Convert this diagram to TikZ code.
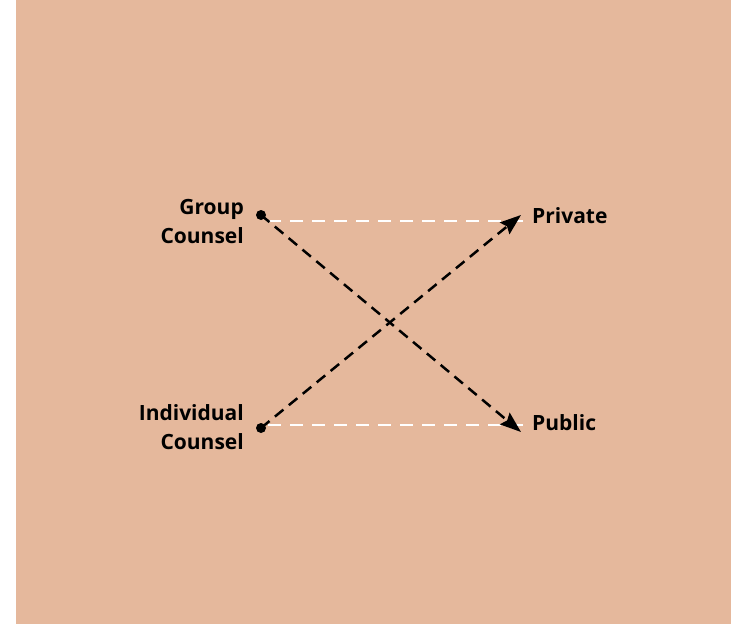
\documentclass[tikz,border=0pt]{standalone}
\usepackage{fontspec}
\setmainfont{Open Sans}
\usetikzlibrary{arrows.meta}
\definecolor{peach}{HTML}{E5B89C}
\tikzset{
	lbl/.style={font=\bfseries\fontsize{21}{29}\selectfont, inner sep=0pt},
	flow/.style={line width=2.5pt, dash pattern=on 11pt off 7pt, -{Stealth[length=21pt,width=15pt,inset=3pt]}},
	guide/.style={white, line width=2.4pt, dash pattern=on 13pt off 9pt},
}

\begin{document}
\begin{tikzpicture}[x=1pt,y=-1pt]
		\useasboundingbox (0,0) rectangle (731,624);
		\fill[peach] (16,0) rectangle (731,624);
		\coordinate (gdot) at (261,215);
		\coordinate (idot) at (261,428);
		\coordinate (privend) at (521,215);
		\coordinate (pubend) at (521,432);
		\node[lbl, align=right, anchor=base east] (group) at (244,243) {Group\\Counsel};
		\node[lbl, align=right, anchor=base east] (indiv) at (244,449) {Individual\\Counsel};
		\node[lbl, anchor=base west] (private) at (532,223) {Private};
		\node[lbl, anchor=base west] (public) at (532,430) {Public};
		% white guides
		\coordinate (gw) at (268,221);
		\coordinate (iw) at (268,425);
		\draw[guide] (gw) -- (gw -| private.west);
		\draw[guide] (iw) -- (iw -| public.west);
		\fill (gdot) circle (5pt);
		\fill (idot) circle (5pt);
		\draw[flow] (gdot) -- (pubend);
		\draw[flow] (idot) -- (privend);
	\end{tikzpicture}
\end{document}
